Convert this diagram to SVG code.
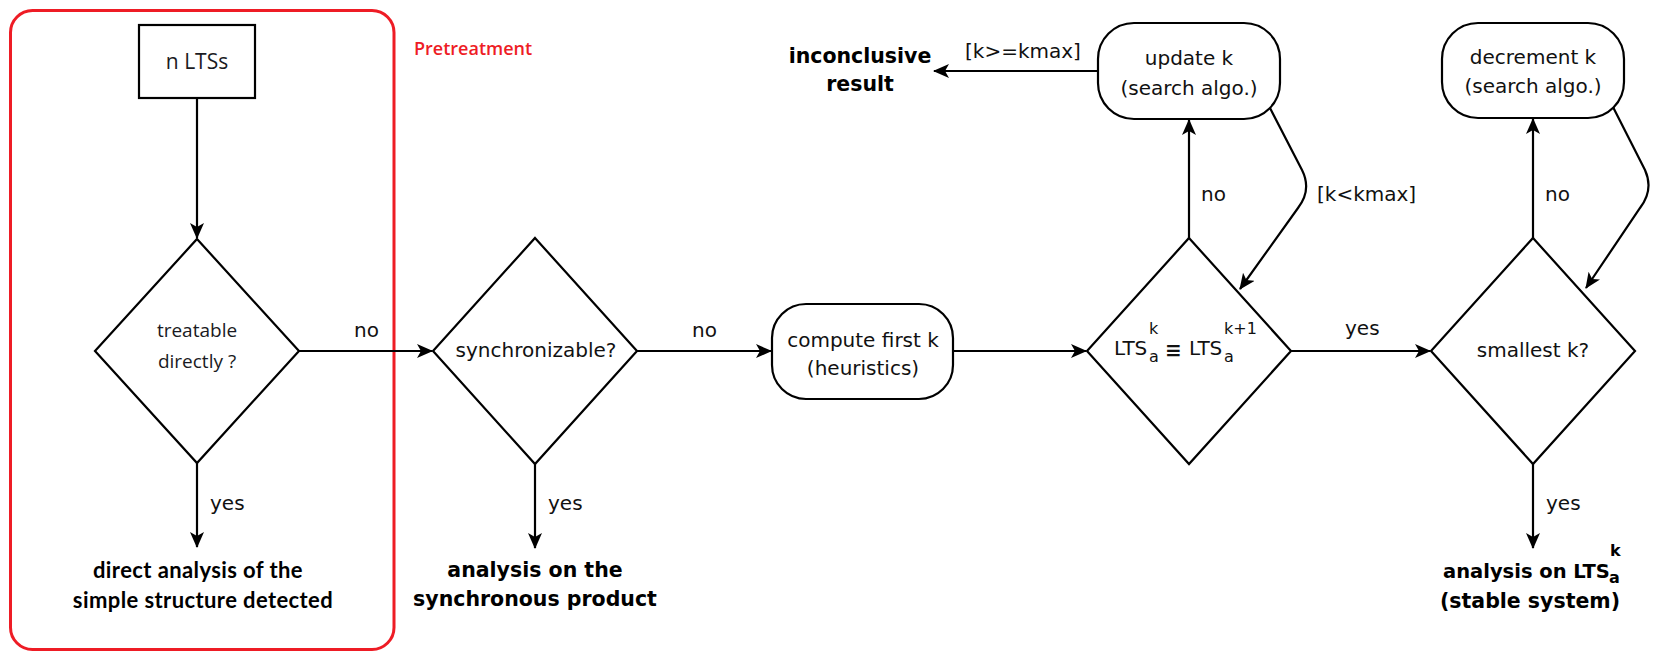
<svg xmlns="http://www.w3.org/2000/svg" width="1655" height="652" viewBox="0 0 1655 652">
<defs>
<marker id="arr" markerUnits="userSpaceOnUse" markerWidth="18" markerHeight="16" refX="15" refY="7" orient="auto">
<path d="M0,0 L16,7 L0,14 L4,7 Z" fill="#000"/>
</marker>
<style>
.shape{fill:#fff;stroke:#000;stroke-width:2.2}
.conn{fill:none;stroke:#000;stroke-width:2.2;marker-end:url(#arr)}
.t{font-family:"DejaVu Sans",sans-serif;font-size:20px;fill:#111;text-anchor:middle}
.lbl{font-family:"DejaVu Sans",sans-serif;font-size:20px;fill:#111}
.u{font-family:"Open Sans",sans-serif;font-size:19px;fill:#1a1a22;text-anchor:middle}
.big{font-size:21px}
.b{font-family:"DejaVu Sans",sans-serif;font-size:20.5px;font-weight:bold;fill:#000;text-anchor:middle}
.bs{font-family:"DejaVu Sans",sans-serif;font-size:19.5px;font-weight:bold;fill:#000;text-anchor:start}
.c{font-family:Lato,sans-serif;font-size:22px;font-weight:bold;fill:#000;text-anchor:middle;letter-spacing:0.4px}
.sm{font-size:16px}
</style>
</defs>
<rect width="1655" height="652" fill="#fff"/>

<g id="pretreatment">
<rect x="10.5" y="10.5" width="383.5" height="639" rx="22" ry="22" fill="none" stroke="#ee1c25" stroke-width="3"/>
<text x="414" y="55" font-family="Open Sans, sans-serif" font-size="18" font-weight="600" fill="#ee1c25">Pretreatment</text>
</g>

<g id="connectors">
<path class="conn" d="M197,98 L197,238"/>
<path class="conn" d="M299,351 L432,351"/>
<path class="conn" d="M637,351 L771,351"/>
<path class="conn" d="M953,351 L1086,351"/>
<path class="conn" d="M1291,351 L1430,351"/>
<path class="conn" d="M1189,238 L1189,120"/>
<path class="conn" d="M1098,71 L934,71"/>
<path class="conn" d="M1270,108 L1302,170 Q1312,190 1298,208 L1240,289"/>
<path class="conn" d="M1533,238 L1533,119"/>
<path class="conn" d="M1613,107 L1645,170 Q1654,190 1640,208 L1586,288"/>
<path class="conn" d="M197,463 L197,547"/>
<path class="conn" d="M535,464 L535,548"/>
<path class="conn" d="M1533,464 L1533,548"/>
<text class="lbl" x="354" y="337">no</text>
<text class="lbl" x="692" y="337">no</text>
<text class="lbl" x="1345" y="335">yes</text>
<text class="lbl" x="1201" y="201">no</text>
<text class="lbl" x="1545" y="201">no</text>
<text class="lbl" x="965" y="58">[k&gt;=kmax]</text>
<text class="lbl" x="1317" y="201">[k&lt;kmax]</text>
<text class="lbl" x="210" y="510">yes</text>
<text class="lbl" x="548" y="510">yes</text>
<text class="lbl" x="1546" y="510">yes</text>
</g>

<g id="n-ltss">
<rect class="shape" x="139" y="25" width="116" height="73"/>
<text class="u big" x="197" y="69">n LTSs</text>
</g>

<g id="treatable">
<polygon class="shape" points="197,239 299,351 197,463 95,351"/>
<text class="u" x="197" y="337">treatable</text>
<text class="u" x="197" y="368">directly ?</text>
</g>

<g id="direct-analysis">
<text class="c" x="198" y="578">direct analysis of the</text>
<text class="c" x="203" y="608">simple structure detected</text>
</g>

<g id="synchronizable">
<polygon class="shape" points="535,238 637,351 535,464 433,351"/>
<text class="t" x="536" y="357">synchronizable?</text>
</g>

<g id="sync-product">
<text class="b" x="535" y="577">analysis on the</text>
<text class="b" x="535" y="606">synchronous product</text>
</g>

<g id="compute-first-k">
<rect class="shape" x="772" y="304" width="181" height="95" rx="34" ry="34"/>
<text class="t" x="863" y="347">compute first k</text>
<text class="t" x="863" y="375">(heuristics)</text>
</g>

<g id="equivalence">
<polygon class="shape" points="1189,238 1291,351 1189,464 1087,351"/>
<text class="lbl" x="1114" y="355">LTS</text>
<text class="lbl sm" x="1149" y="362">a</text>
<text class="lbl sm" x="1149" y="334">k</text>
<text class="lbl" x="1165" y="357" font-weight="bold" font-size="22">≡</text>
<text class="lbl" x="1189" y="355">LTS</text>
<text class="lbl sm" x="1224" y="362">a</text>
<text class="lbl sm" x="1224" y="334">k+1</text>
</g>

<g id="update-k">
<rect class="shape" x="1098" y="23" width="182" height="96" rx="36" ry="36"/>
<text class="t" x="1189" y="65">update k</text>
<text class="t" x="1189" y="95">(search algo.)</text>
</g>

<g id="inconclusive">
<text class="b" x="860" y="63">inconclusive</text>
<text class="b" x="860" y="91">result</text>
</g>

<g id="smallest-k">
<polygon class="shape" points="1533,238 1635,351 1533,464 1431,351"/>
<text class="t" x="1533" y="357">smallest k?</text>
</g>

<g id="decrement-k">
<rect class="shape" x="1442" y="23" width="182" height="95" rx="36" ry="36"/>
<text class="t" x="1533" y="64">decrement k</text>
<text class="t" x="1533" y="93">(search algo.)</text>
</g>

<g id="stable-analysis">
<text class="bs" x="1443" y="578">analysis on LTS</text>
<text class="bs sm" x="1609" y="583">a</text>
<text class="bs sm" x="1610" y="556">k</text>
<text class="b" x="1530" y="608">(stable system)</text>
</g>
</svg>
